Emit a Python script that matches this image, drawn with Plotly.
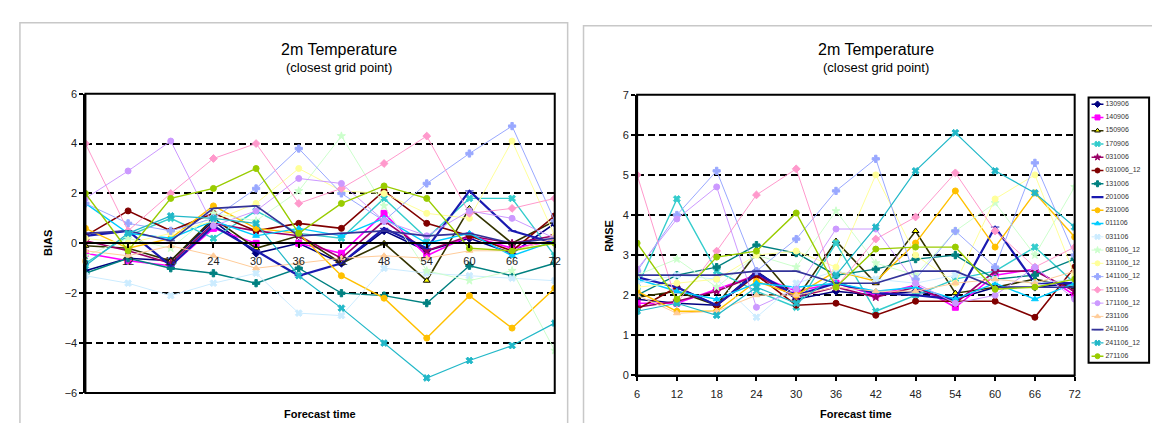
import plotly.graph_objects as go

W, H = 1160, 423

# ---------------- data ----------------
hours = [6, 12, 18, 24, 30, 36, 42, 48, 54, 60, 66, 72]
series_names = ["130906", "140906", "150906", "170906", "031006", "031006_12",
                "131006", "201006", "231006", "011106", "031106", "081106_12",
                "131106_12", "141106_12", "151106", "171106_12", "231106",
                "241106", "241106_12", "271106"]

bias_130906 = [-1.1, -0.6, -0.7, 0.9, -0.4, 0.0, -0.8, 0.5, -0.3, 0.2, -0.4, 0.8]
bias_140906 = [-0.4, -0.7, -0.9, 0.6, 0.0, 0.0, -0.4, 1.2, -0.5, 0.3, -0.2, 0.1]
bias_150906 = [-0.1, -0.2, -0.7, 1.0, -0.2, 0.3, -0.8, 0.0, -1.5, 1.4, 0.0, 0.9]
bias_170906 = [-0.8, 0.3, 1.0, 0.2, 1.3, 0.4, 0.2, 1.8, 0.2, 1.8, 1.8, -0.5]
bias_031006 = [0.1, -0.3, -0.8, 0.8, 0.5, 0.3, -0.6, 0.9, -0.3, 0.3, 0.0, 0.3]
bias_031006_12 = [0.3, 1.3, 0.5, 1.2, 0.5, 0.8, 0.6, 2.1, 0.8, 0.3, -0.3, 1.1]
bias_131006 = [-1.2, -0.6, -1.0, -1.2, -1.6, -1.0, -2.0, -2.1, -2.4, -0.9, -1.3, -0.8]
bias_201006 = [0.3, 0.5, -0.9, 0.7, -0.3, -1.3, -0.8, 0.6, -0.2, 2.1, 0.5, 0.0]
bias_231006 = [0.6, -0.2, 0.2, 1.5, 0.6, 0.4, -1.3, -2.2, -3.8, -2.1, -3.4, -1.8]
bias_011106 = [1.6, 0.4, 0.2, 0.9, 0.3, 0.6, 0.3, 1.0, 0.0, 0.4, -0.5, 0.1]
bias_031106 = [-1.3, -1.6, -2.1, -1.6, -1.2, -2.8, -2.9, -1.0, -1.2, -1.3, -1.4, -1.5]
bias_081106_12 = [-0.5, 0.2, -0.2, 1.2, 0.9, 2.1, 4.3, 1.5, -1.1, -1.5, -1.1, -4.3]
bias_131106_12 = [0.2, 0.0, 0.4, 0.9, 1.6, 3.0, 2.1, 2.0, 1.2, 1.0, 4.1, 0.3]
bias_141106_12 = [1.6, 0.8, 0.5, 1.0, 2.2, 3.8, 2.0, 0.9, 2.4, 3.6, 4.7, 0.9]
bias_151106 = [4.0, 0.5, 2.0, 3.4, 4.0, 1.6, 2.2, 3.2, 4.3, 1.2, 1.4, 1.8]
bias_171106_12 = [1.8, 2.9, 4.1, 0.7, 1.3, 2.6, 2.4, 0.9, 0.3, 1.3, 1.0, 0.2]
bias_231106 = [-0.3, -0.5, -0.1, -0.5, -1.0, -0.8, -0.6, -0.5, -0.6, -0.3, -0.3, 0.2]
bias_241106 = [0.4, 0.5, 0.1, 1.4, 1.5, 0.3, 0.4, 0.5, 0.3, 0.4, 0.0, 0.2]
bias_241106_12 = [-0.9, 0.4, 1.1, 1.0, 0.8, -1.3, -2.6, -4.0, -5.4, -4.7, -4.1, -3.2]
bias_271106 = [2.0, -0.3, 1.8, 2.2, 3.0, 0.4, 1.6, 2.3, 1.8, -0.2, -0.3, 0.0]

rmse_130906 = [1.9, 1.8, 1.75, 2.6, 1.9, 2.1, 2.0, 2.1, 1.9, 2.2, 2.2, 2.3]
rmse_140906 = [1.8, 1.8, 2.15, 2.5, 2.1, 2.3, 2.0, 2.25, 1.7, 2.5, 2.65, 2.0]
rmse_150906 = [1.95, 2.1, 1.75, 3.05, 1.9, 3.35, 2.3, 3.6, 2.05, 2.2, 2.4, 2.2]
rmse_170906 = [2.2, 4.4, 2.6, 2.1, 1.7, 3.3, 1.6, 2.0, 2.4, 2.6, 3.2, 2.3]
rmse_031006 = [1.7, 1.85, 2.1, 2.5, 1.95, 2.2, 1.95, 2.2, 1.8, 2.6, 2.6, 2.1]
rmse_031006_12 = [1.65, 2.2, 1.75, 2.5, 1.75, 1.8, 1.5, 1.85, 1.85, 1.85, 1.45, 2.7]
rmse_131006 = [2.0, 2.5, 2.7, 3.25, 3.05, 2.5, 2.65, 2.9, 3.0, 2.4, 2.5, 2.9]
rmse_201006 = [2.45, 2.2, 1.75, 2.55, 2.0, 2.3, 2.05, 2.0, 1.9, 3.7, 2.3, 2.3]
rmse_231006 = [2.1, 1.6, 1.6, 2.35, 2.0, 2.6, 2.35, 3.3, 4.6, 3.2, 4.55, 3.45]
rmse_011106 = [2.4, 2.1, 1.9, 2.3, 2.2, 2.3, 2.1, 2.2, 1.9, 2.3, 1.9, 2.3]
rmse_031106 = [2.3, 2.5, 2.4, 1.45, 2.3, 2.6, 2.4, 2.3, 2.5, 2.4, 2.3, 2.4]
rmse_081106_12 = [2.5, 2.9, 2.2, 3.0, 2.7, 4.1, 2.8, 2.5, 3.6, 4.3, 3.0, 4.7]
rmse_131106_12 = [2.2, 2.3, 2.4, 3.0, 3.1, 2.7, 5.0, 3.0, 2.3, 4.4, 5.0, 2.5]
rmse_141106_12 = [2.6, 4.0, 5.1, 2.6, 3.4, 4.6, 5.4, 2.4, 3.6, 2.7, 5.3, 3.0]
rmse_151106 = [5.0, 1.8, 3.1, 4.5, 5.15, 2.2, 3.4, 3.95, 5.05, 3.6, 2.7, 3.2]
rmse_171106_12 = [2.65, 3.9, 4.7, 1.7, 2.15, 3.65, 3.65, 2.3, 1.8, 2.0, 2.7, 1.9]
rmse_231106 = [2.0, 1.55, 1.6, 2.0, 2.0, 2.2, 2.1, 2.1, 2.3, 2.4, 2.3, 2.6]
rmse_241106 = [2.5, 2.5, 2.5, 2.6, 2.6, 2.3, 2.3, 2.6, 2.6, 2.2, 2.2, 2.2]
rmse_241106_12 = [1.6, 1.8, 1.5, 2.2, 1.8, 2.5, 3.7, 5.1, 6.05, 5.1, 4.55, 3.7]
rmse_271106 = [3.3, 1.9, 2.95, 3.1, 4.05, 2.2, 3.15, 3.2, 3.2, 2.15, 2.2, 2.4]

bias_series = [bias_130906, bias_140906, bias_150906, bias_170906, bias_031006,
               bias_031006_12, bias_131006, bias_201006, bias_231006, bias_011106,
               bias_031106, bias_081106_12, bias_131106_12, bias_141106_12,
               bias_151106, bias_171106_12, bias_231106, bias_241106,
               bias_241106_12, bias_271106]
rmse_series = [rmse_130906, rmse_140906, rmse_150906, rmse_170906, rmse_031006,
               rmse_031006_12, rmse_131006, rmse_201006, rmse_231006, rmse_011106,
               rmse_031106, rmse_081106_12, rmse_131106_12, rmse_141106_12,
               rmse_151106, rmse_171106_12, rmse_231106, rmse_241106,
               rmse_241106_12, rmse_271106]

bias_ticks = [-6, -4, -2, 0, 2, 4, 6]
rmse_ticks = [0, 1, 2, 3, 4, 5, 6, 7]

# ---------------- styles ----------------
line_colors = ["#000080", "#FF00FF", "#333300", "#33CCCC", "#990066", "#800000",
               "#008080", "#1A1AB0", "#FFC000", "#00CCFF", "#CCECFF", "#CCFFCC",
               "#FFFF99", "#99A8FF", "#FF99CC", "#CC99FF", "#FFCC99", "#333399",
               "#22B8C8", "#99CC00"]
marker_colors = ["#000080", "#FF00FF", "#FFFF00", "#33CCCC", "#990066", "#800000",
                 "#008080", "#1A1AB0", "#FFC000", "#00CCFF", "#CCECFF", "#CCFFCC",
                 "#FFFF99", "#99A8FF", "#FF99CC", "#CC99FF", "#FFCC99", "#333399",
                 "#22B8C8", "#99CC00"]
marker_symbols = ["diamond", "square", "triangle-up", "x", "star", "circle",
                  "cross", "line-ew", "circle", "triangle-up", "x", "star",
                  "circle", "cross", "diamond", "circle", "triangle-up",
                  "line-ew", "x", "circle"]
line_widths = [1.6, 1.6, 1.6, 1.4, 1.6, 1.6, 1.4, 2.2, 1.4, 1.4, 1.0, 1.0,
               1.0, 1.0, 1.0, 1.0, 1.0, 1.6, 1.2, 1.4]


def px(x):
    return x / W


def py(y):
    return 1 - y / H


FONT = "Arial, Liberation Sans, sans-serif"

fig = go.Figure()

for i, name in enumerate(series_names):
    mline = dict(color="black", width=1) if i == 2 else dict(color=marker_colors[i], width=1)
    common = dict(
        mode="lines+markers",
        name=name,
        line=dict(color=line_colors[i], width=line_widths[i]),
        marker=dict(symbol=marker_symbols[i], size=6, color=marker_colors[i], line=mline),
        showlegend=False,
    )
    fig.add_trace(go.Scatter(x=hours, y=bias_series[i], xaxis="x", yaxis="y", **common))
    fig.add_trace(go.Scatter(x=hours, y=rmse_series[i], xaxis="x2", yaxis="y2", **common))

# ---- legend box (drawn as a small subplot, one row per series) ----
n = len(series_names)
for i, name in enumerate(series_names):
    mline = dict(color="black", width=1) if i == 2 else dict(color=marker_colors[i], width=1)
    fig.add_trace(go.Scatter(
        x=[3, 15], y=[i + 0.5, i + 0.5], xaxis="x3", yaxis="y3", mode="lines",
        line=dict(color=line_colors[i], width=line_widths[i]), showlegend=False,
        hoverinfo="skip"))
    fig.add_trace(go.Scatter(
        x=[9], y=[i + 0.5], xaxis="x3", yaxis="y3", mode="markers",
        marker=dict(symbol=marker_symbols[i], size=5, color=marker_colors[i], line=mline),
        showlegend=False, hoverinfo="skip"))
    fig.add_trace(go.Scatter(
        x=[17], y=[i + 0.5], xaxis="x3", yaxis="y3", mode="text", text=[name],
        textposition="middle right", textfont=dict(family=FONT, size=7, color="#333333"),
        showlegend=False, hoverinfo="skip", cliponaxis=False))

left_dom_y = [py(390), py(82)]
right_dom_y = [py(372), py(83)]

axis_common = dict(showline=True, linecolor="black", linewidth=2, ticks="outside",
                   ticklen=4, tickcolor="black", tickwidth=1.5, zeroline=False,
                   tickfont=dict(family=FONT, size=11, color="#222222"))

fig.update_layout(
    width=W, height=H,
    margin=dict(l=0, r=0, t=0, b=0),
    paper_bgcolor="white", plot_bgcolor="white",
    showlegend=False,
    xaxis=dict(domain=[px(75), px(548)], range=[6, 72], tickvals=hours,
               anchor="free", position=(left_dom_y[0] + left_dom_y[1]) / 2,
               showgrid=False, ticklabelstandoff=3, **axis_common),
    yaxis=dict(domain=left_dom_y, range=[-6, 6], tickvals=bias_ticks, anchor="x",
               showgrid=True, gridcolor="black", gridwidth=2, griddash="7px,4px",
               **axis_common),
    xaxis2=dict(domain=[px(631), px(1072)], range=[6, 72], tickvals=hours,
                anchor="y2", showgrid=False, ticklabelstandoff=3, **axis_common),
    yaxis2=dict(domain=right_dom_y, range=[0, 7], tickvals=rmse_ticks, anchor="x2",
                showgrid=True, gridcolor="black", gridwidth=2, griddash="7px,4px",
                **axis_common),
    xaxis3=dict(domain=[px(1086), px(1147)], range=[0, 61], visible=False),
    yaxis3=dict(domain=[py(359), py(86)], range=[n, 0], visible=False),
)

shapes = []
# panel borders
shapes.append(dict(type="rect", xref="paper", yref="paper", x0=px(9), x1=px(561),
                   y0=py(440), y1=py(9), line=dict(color="#C8C8C8", width=1.5)))
shapes.append(dict(type="rect", xref="paper", yref="paper", x0=px(577), x1=px(1175),
                   y0=py(440), y1=py(12), line=dict(color="#C8C8C8", width=1.5)))
# plot frames
shapes.append(dict(type="rect", xref="x domain", yref="y domain", x0=0, x1=1, y0=0, y1=1,
                   line=dict(color="black", width=2)))
shapes.append(dict(type="rect", xref="x2 domain", yref="y2 domain", x0=0, x1=1, y0=0, y1=1,
                   line=dict(color="black", width=2)))
# legend frame
shapes.append(dict(type="rect", xref="x3 domain", yref="y3 domain", x0=0, x1=1, y0=0, y1=1,
                   line=dict(color="black", width=2)))
fig.update_layout(shapes=shapes)

ann = []
for cx in (331, 872):
    ann.append(dict(text="2m Temperature", x=px(cx), y=py(37), xref="paper", yref="paper",
                    showarrow=False, font=dict(family=FONT, size=16, color="black"),
                    xanchor="center", yanchor="middle"))
    ann.append(dict(text="(closest grid point)", x=px(cx), y=py(55), xref="paper", yref="paper",
                    showarrow=False, font=dict(family=FONT, size=13, color="black"),
                    xanchor="center", yanchor="middle"))
for cx in (311, 852):
    ann.append(dict(text="<b>Forecast time</b>", x=px(cx), y=py(412), xref="paper", yref="paper",
                    showarrow=False, font=dict(family=FONT, size=11, color="black"),
                    xanchor="center", yanchor="middle"))
ann.append(dict(text="<b>BIAS</b>", x=px(38), y=py(236), xref="paper", yref="paper",
                showarrow=False, textangle=-90, font=dict(family=FONT, size=11, color="black"),
                xanchor="center", yanchor="middle"))
ann.append(dict(text="<b>RMSE</b>", x=px(602), y=py(228), xref="paper", yref="paper",
                showarrow=False, textangle=-90, font=dict(family=FONT, size=11, color="black"),
                xanchor="center", yanchor="middle"))
fig.update_layout(annotations=ann)

fig.write_html("out.html")
